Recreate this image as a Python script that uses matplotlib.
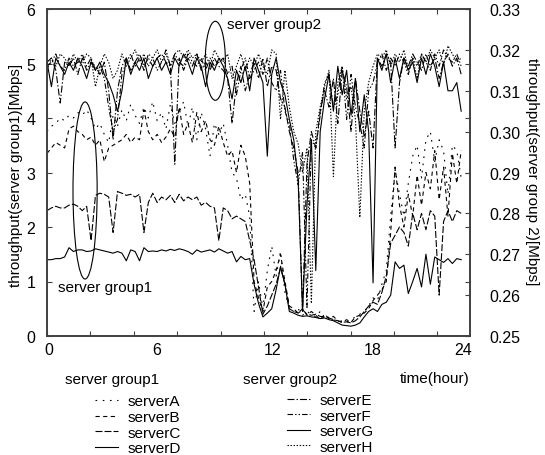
import numpy as np
import matplotlib
matplotlib.use('Agg')
import matplotlib.pyplot as plt
from matplotlib.patches import Ellipse
from matplotlib.ticker import FormatStrFormatter

plt.rcParams['font.family'] = ['Liberation Sans', 'DejaVu Sans']
plt.rcParams['lines.scale_dashes'] = False

# ---------------- data ----------------
hours = np.arange(95) * 0.25          # 0 .. 23.5 h

x_tick_labels = ['0', '6', '12', '18', '24']
x_label_pos = [0.1, 6.25, 12.8, 18.5, 23.6]

# server group 1 (left axis, Mbps)
serverA = [
    3.75, 3.85, 3.90, 4.00,  3.95, 4.05, 4.00, 4.10,  4.05, 4.15, 4.00, 3.80,
    3.90, 3.70, 3.55, 4.05,  3.85, 4.15, 3.95, 4.25,  4.05, 3.90, 4.20, 4.00,
    4.30, 3.95, 4.10, 3.80,  4.25, 3.90, 4.10, 4.30,  3.85, 4.20, 3.60, 4.10,
    3.80, 3.30, 3.90, 3.70,  3.90, 3.50, 3.00, 2.90,  2.50, 2.60, 2.20, 0.45,
    1.00, 0.50, 1.20, 1.65,  1.10, 1.55, 0.80, 0.50,  0.45, 0.50, 0.38, 0.45,
    0.40, 0.35, 0.45, 0.30,  0.35, 0.30, 0.26, 0.28,  0.25, 0.30, 0.35, 0.40,
    0.45, 0.55, 0.70, 0.65,  0.95, 1.20, 2.20, 3.05,  2.60, 2.20, 2.80, 3.30,
    3.50, 2.90, 3.60, 3.75,  3.20, 3.60, 3.40, 2.60,  3.50, 3.40, 2.90]
serverB = [
    3.35, 3.45, 3.55, 3.50,  3.45, 3.80, 3.85, 3.75,  3.70, 3.60, 3.65, 3.50,
    3.60, 3.20, 3.45, 3.50,  3.55, 3.60, 3.70, 3.55,  3.65, 3.60, 4.15, 3.75,
    3.60, 3.70, 3.55, 3.65,  3.80, 3.65, 4.20, 3.70,  3.90, 3.55, 4.10, 3.75,
    3.95, 3.60, 3.50, 3.85,  3.55, 3.30, 3.40, 3.00,  3.50, 3.30, 2.80, 1.00,
    0.70, 0.45, 0.90, 1.00,  1.20, 1.50, 1.00, 0.55,  0.50, 0.42, 0.50, 0.38,
    0.45, 0.38, 0.30, 0.40,  0.32, 0.36, 0.28, 0.25,  0.30, 0.25, 0.35, 0.38,
    0.42, 0.50, 0.65, 0.75,  0.85, 1.00, 1.90, 3.10,  2.40, 2.00, 2.60, 2.20,
    2.95, 2.40, 3.00, 2.70,  3.40, 2.50, 3.10, 2.20,  3.35, 2.80, 3.40]
serverC = [
    2.30, 2.35, 2.38, 2.35,  2.35, 2.40, 2.42, 2.38,  2.30, 2.38, 1.75, 2.58,
    2.62, 2.60, 2.55, 1.90,  2.65, 2.62, 2.58, 2.60,  2.55, 2.60, 1.90, 2.45,
    2.62, 2.45, 2.55, 2.50,  2.58, 2.45, 2.60, 2.48,  2.55, 2.50, 2.55, 2.40,
    2.45, 2.38, 2.35, 1.75,  2.35, 2.30, 2.15, 2.20,  2.15, 2.10, 1.75, 1.40,
    0.90, 0.40, 0.55, 0.75,  0.95, 1.25, 0.95, 0.50,  0.45, 0.42, 0.48, 0.40,
    0.38, 0.40, 0.36, 0.35,  0.33, 0.30, 0.28, 0.25,  0.26, 0.24, 0.28, 0.35,
    0.45, 0.55, 0.62, 0.58,  0.80, 1.10, 1.70, 1.85,  2.00, 1.90, 1.65, 2.25,
    1.95, 2.25, 1.95, 2.30,  2.20, 0.75, 2.10, 2.30,  2.10, 2.30, 2.25]
serverD = [
    1.40, 1.40, 1.42, 1.42,  1.45, 1.62, 1.55, 1.58,  1.58, 1.55, 1.56, 1.60,
    1.58, 1.56, 1.54, 1.52,  1.55, 1.52, 1.38, 1.58,  1.55, 1.38, 1.62, 1.55,
    1.56, 1.55, 1.58, 1.56,  1.59, 1.57, 1.60, 1.58,  1.55, 1.50, 1.58, 1.54,
    1.56, 1.58, 1.54, 1.60,  1.56, 1.52, 1.55, 1.36,  1.46, 1.40, 1.42, 0.95,
    0.60, 0.35, 0.42, 0.50,  0.85, 1.28, 0.95, 0.45,  0.42, 0.38, 0.36, 0.37,
    0.35, 0.34, 0.32, 0.33,  0.30, 0.28, 0.24, 0.20,  0.19, 0.18, 0.20, 0.24,
    0.35, 0.45, 0.50, 0.45,  0.58, 0.62, 0.75, 1.36,  1.24, 1.30, 0.78, 1.00,
    1.24, 0.90, 1.50, 0.95,  1.45, 1.40, 1.35, 1.42,  1.33, 1.42, 1.40]

# server group 2 (right axis, Mbps)
serverE = [
    .317, .318, .315, .307,  .317, .316, .318, .314,  .318, .315, .317, .316,
    .314, .317, .310, .298,  .310, .316, .318, .315,  .317, .319, .316, .318,
    .316, .318, .319, .317,  .316, .292, .318, .315,  .318, .316, .319, .315,
    .317, .315, .318, .316,  .315, .313, .302, .312,  .316, .310, .314, .317,
    .313, .318, .311, .316,  .315, .308, .306, .300,  .296, .290, .256, .292,
    .300, .296, .305, .310,  .306, .313, .302, .315,  .311, .300, .313, .305,
    .299, .305, .296, .318,  .316, .319, .317, .296,  .312, .318, .316, .319,
    .317, .315, .319, .316,  .318, .313, .317, .319,  .316, .318, .314]
serverF = [
    .316, .317, .319, .316,  .315, .318, .316, .317,  .319, .316, .318, .315,
    .316, .313, .306, .300,  .303, .314, .317, .319,  .316, .318, .315, .319,
    .318, .315, .317, .320,  .316, .319, .317, .316,  .319, .317, .316, .318,
    .315, .318, .316, .317,  .318, .314, .316, .309,  .315, .318, .313, .315,
    .317, .314, .318, .312,  .310, .315, .305, .302,  .293, .287, .295, .257,
    .298, .296, .304, .312,  .314, .306, .309, .316,  .303, .314, .306, .302,
    .296, .310, .312, .317,  .319, .315, .318, .316,  .319, .317, .314, .318,
    .316, .319, .317, .315,  .319, .316, .320, .318,  .317, .319, .316]
serverG = [
    .317, .311, .318, .316,  .314, .317, .315, .318,  .316, .313, .317, .315,
    .317, .314, .312, .309,  .305, .310, .318, .314,  .317, .315, .318, .313,
    .316, .318, .315, .317,  .314, .318, .316, .319,  .317, .314, .318, .316,
    .311, .317, .315, .318,  .316, .313, .308, .315,  .312, .316, .310, .318,
    .315, .312, .294, .314,  .318, .312, .309, .303,  .298, .288, .256, .282,
    .298, .266, .300, .308,  .314, .305, .316, .309,  .315, .304, .313, .300,
    .309, .300, .263, .318,  .315, .319, .312, .318,  .313, .318, .315, .317,
    .312, .318, .314, .319,  .316, .311, .317, .310,  .310, .312, .305]
serverH = [
    .315, .318, .316, .319,  .318, .316, .319, .317,  .317, .319, .318, .311,
    .316, .319, .317, .313,  .315, .319, .316, .318,  .320, .317, .319, .316,
    .318, .320, .317, .319,  .316, .319, .320, .318,  .320, .318, .319, .317,
    .319, .316, .320, .318,  .317, .319, .313, .316,  .319, .315, .318, .316,
    .319, .316, .314, .320,  .319, .303, .315, .306,  .300, .297, .290, .296,
    .258, .300, .306, .311,  .315, .289, .312, .316,  .308, .311, .303, .279,
    .305, .312, .316, .319,  .318, .320, .316, .319,  .317, .320, .315, .318,
    .313, .319, .317, .320,  .318, .320, .316, .321,  .319, .317, .318]

group1 = {'serverA': serverA, 'serverB': serverB, 'serverC': serverC, 'serverD': serverD}
group2 = {'serverE': serverE, 'serverF': serverF, 'serverG': serverG, 'serverH': serverH}

# ---------------- styles ----------------
style1 = {'serverA': (0, (1.2, 4.0)), 'serverB': (0, (3.0, 2.5)),
          'serverC': (0, (5.0, 1.5)), 'serverD': '-'}
style2 = {'serverE': (0, (5.0, 1.5, 1.0, 1.5)), 'serverF': (0, (4.0, 1.5, 1.0, 1.5, 1.0, 1.5)),
          'serverG': '-', 'serverH': (0, (1.0, 1.2))}
LW = 0.8
FS = 11.5

fig = plt.figure(figsize=(5.45, 4.56), dpi=100)
ax = fig.add_axes([47 / 545, 1 - 337 / 456, 423 / 545, 327 / 456])
ax2 = ax.twinx()

h1 = []
for name, vals in group1.items():
    ln, = ax.plot(hours, vals, color='black', lw=LW, ls=style1[name], label=name)
    h1.append(ln)
h2 = []
for name, vals in group2.items():
    ln, = ax2.plot(hours, vals, color='black', lw=LW, ls=style2[name], label=name)
    h2.append(ln)

ax.set_xlim(0, 24)
ax.set_ylim(0, 6)
ax2.set_ylim(0.25, 0.33)

spine_c = '#404040'
for a in (ax, ax2):
    for s in a.spines.values():
        s.set_color(spine_c)
        s.set_linewidth(1.2)

# x ticks: unlabeled marks every 24/9.75 h, labels placed separately
ax.set_xticks(x_label_pos, x_tick_labels)
ax.set_xticks([k * 24 / 9.75 for k in range(10)], minor=True)
ax.tick_params(axis='x', which='major', length=0, pad=4.5, labelsize=FS)
ax.tick_params(axis='x', which='minor', direction='in', length=3.6, width=0.8,
               top=True, bottom=True, color=spine_c)

ax.set_yticks(range(7))
ax.tick_params(axis='y', which='major', direction='in', length=3.6, width=0.8,
               left=True, right=True, pad=8.5, labelsize=FS, color=spine_c)

ax2.set_yticks(np.round(np.arange(0.25, 0.3301, 0.01), 2))
ax2.yaxis.set_major_formatter(FormatStrFormatter('%.2f'))
ax2.tick_params(axis='y', direction='in', length=3.6, width=0.8, pad=14,
                labelsize=FS, color=spine_c)

# axis labels
ax.set_ylabel('throughput(server group1)[Mbps]', fontsize=11)
ax.yaxis.label.set(rotation_mode='default', ha='center', va='center')
ax.yaxis.set_label_coords((16 - 47) / 423, (337 - 175) / 327)

ax2.set_ylabel('throughput(server group 2)[Mbps]', fontsize=11, rotation=-90)
ax2.yaxis.label.set(rotation_mode='default', ha='center', va='center')
ax2.yaxis.set_label_coords((532 - 47) / 423, (337 - 172) / 327)

ax.set_xlabel('time(hour)', fontsize=11)
ax.xaxis.label.set(ha='right', va='center')
ax.xaxis.set_label_coords(1.0, (337 - 379) / 327)

# annotations
ax.add_patch(Ellipse((9.55, 5.05), 1.14, 1.45, fill=False, lw=LW, color='black'))
ax.text(10.2, 5.73, 'server group2', fontsize=11, va='center', ha='left')
ax.add_patch(Ellipse((2.16, 2.67), 1.37, 3.25, fill=False, lw=LW, color='black'))
ax.text(0.63, 0.9, 'server group1', fontsize=11, va='center', ha='left')

# legends
common = dict(loc='upper left', bbox_transform=fig.transFigure, frameon=False,
              fontsize=11, handlelength=1.5, handletextpad=0.6, labelspacing=0.1,
              borderpad=0, borderaxespad=0)
leg1 = ax.legend(handles=h1, bbox_to_anchor=(95 / 545, 1 - 395.5 / 456), **common)
ax.add_artist(leg1)
ax.legend(handles=h2, bbox_to_anchor=(287 / 545, 1 - 394 / 456), **common)
fig.text(65 / 545, 1 - 380 / 456, 'server group1', fontsize=11, va='center', ha='left')
fig.text(243 / 545, 1 - 380 / 456, 'server group2', fontsize=11, va='center', ha='left')

fig.savefig('out.png', dpi=100)
